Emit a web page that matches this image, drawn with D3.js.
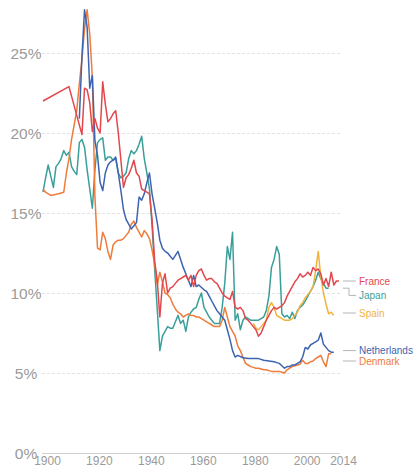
<!DOCTYPE html>
<html><head><meta charset="utf-8">
<script src="https://cdn.jsdelivr.net/npm/d3@7"></script>
<style>body{margin:0;background:#fff}svg{display:block}</style>
</head><body>
<svg id="c" width="413" height="468"></svg>
<script>
const yearTicks = [1900, 1920, 1940, 1960, 1980, 2000, 2014];
const pctTicks = [0, 5, 10, 15, 20, 25];

const france = [[1900,22.0],[1910,22.9],[1915,19.9],[1916,22.8],[1917,22.7],[1918,21.9],[1919,20.1],[1920,20.9],[1921,20.3],[1922,20.0],[1923,23.2],[1924,21.8],[1925,20.7],[1926,20.9],[1927,21.2],[1928,21.4],[1929,20.0],[1930,18.3],[1931,16.6],[1932,17.2],[1933,17.4],[1934,17.8],[1935,18.3],[1936,17.5],[1937,17.3],[1938,16.5],[1939,16.4],[1940,16.3],[1941,16.2],[1942,14.6],[1943,12.0],[1944,10.8],[1945,8.5],[1946,10.6],[1947,11.2],[1948,10.0],[1949,10.3],[1950,10.4],[1951,10.6],[1952,10.8],[1953,10.9],[1954,11.0],[1955,11.1],[1956,10.8],[1957,11.1],[1958,10.4],[1959,11.1],[1960,11.4],[1961,11.5],[1962,11.1],[1963,10.8],[1964,10.9],[1965,10.9],[1966,10.7],[1967,10.6],[1968,10.3],[1969,10.0],[1970,9.8],[1971,9.7],[1972,9.6],[1973,10.1],[1974,9.1],[1975,9.0],[1976,9.1],[1977,8.9],[1978,8.4],[1979,8.3],[1980,8.1],[1981,7.9],[1982,7.7],[1983,7.3],[1984,7.5],[1985,7.9],[1986,8.3],[1987,8.6],[1988,8.9],[1989,9.1],[1990,9.0],[1991,9.1],[1992,9.2],[1993,9.4],[1994,9.8],[1995,10.1],[1996,10.4],[1997,10.7],[1998,10.9],[1999,11.2],[2000,11.0],[2001,11.1],[2002,11.3],[2003,11.1],[2004,11.6],[2005,11.4],[2006,11.5],[2007,11.2],[2008,10.5],[2009,10.9],[2010,10.4],[2011,11.3],[2012,10.5],[2013,10.75],[2014,10.75]];

const japan = [[1900,16.3],[1901,17.2],[1902,18.0],[1903,17.3],[1904,16.6],[1905,17.9],[1906,18.1],[1907,18.4],[1908,18.9],[1909,18.6],[1910,18.8],[1911,17.9],[1912,17.6],[1913,17.4],[1914,19.4],[1915,19.6],[1916,19.1],[1917,17.7],[1918,16.5],[1919,15.3],[1920,17.7],[1921,19.4],[1922,19.6],[1923,19.7],[1924,18.3],[1925,18.5],[1926,18.5],[1927,18.3],[1928,18.4],[1929,17.5],[1930,17.2],[1931,17.3],[1932,17.5],[1933,18.4],[1934,18.9],[1935,18.7],[1936,18.9],[1937,19.3],[1938,19.8],[1939,18.4],[1940,17.5],[1941,16.5],[1942,14.2],[1943,11.5],[1944,9.0],[1945,6.4],[1946,7.3],[1947,7.6],[1948,7.9],[1949,7.8],[1950,7.8],[1951,8.2],[1952,8.6],[1953,8.1],[1954,8.3],[1955,7.6],[1956,8.5],[1957,8.8],[1958,9.0],[1959,9.1],[1960,9.6],[1961,10.0],[1962,9.1],[1963,8.8],[1964,8.5],[1965,8.3],[1966,8.1],[1967,8.1],[1968,8.1],[1969,9.1],[1970,10.6],[1971,12.9],[1972,12.1],[1973,13.8],[1974,8.3],[1975,8.7],[1976,7.7],[1977,8.3],[1978,8.5],[1979,8.4],[1980,8.3],[1981,8.3],[1982,8.3],[1983,8.3],[1984,8.4],[1985,8.5],[1986,8.9],[1987,9.8],[1988,11.6],[1989,12.1],[1990,12.9],[1991,12.4],[1992,8.7],[1993,8.5],[1994,8.6],[1995,8.4],[1996,8.8],[1997,8.4],[1998,8.9],[1999,9.1],[2000,9.25],[2001,9.5],[2002,9.8],[2003,10.1],[2004,10.4],[2005,10.8],[2006,11.3],[2007,10.9],[2008,10.6],[2009,10.3],[2010,10.3]];

const spain = [[1981,8.1],[1982,7.8],[1983,7.7],[1984,7.9],[1985,8.1],[1986,8.3],[1987,9.1],[1988,9.4],[1989,9.1],[1990,8.6],[1991,8.5],[1992,8.4],[1993,8.3],[1994,8.3],[1995,8.3],[1996,8.4],[1997,8.6],[1998,8.8],[1999,9.2],[2000,9.4],[2001,9.7],[2002,9.9],[2003,10.1],[2004,10.4],[2005,11.4],[2006,12.6],[2007,11.0],[2008,10.0],[2009,9.3],[2010,8.7],[2011,8.8],[2012,8.6]];

const netherlands = [[1914,20.9],[1915,24.8],[1916,27.7],[1917,26.6],[1918,22.8],[1919,23.6],[1920,19.5],[1921,18.6],[1922,16.9],[1923,16.4],[1924,17.5],[1925,18.0],[1926,18.2],[1927,18.3],[1928,18.5],[1929,17.5],[1930,16.4],[1931,15.2],[1932,14.6],[1933,14.3],[1934,14.0],[1935,14.2],[1936,14.4],[1937,16.0],[1938,15.8],[1939,16.2],[1940,16.9],[1941,17.5],[1942,16.2],[1943,15.3],[1944,14.4],[1945,13.3],[1946,12.8],[1947,12.6],[1948,12.5],[1949,12.3],[1950,12.1],[1952,12.6],[1953,12.1],[1954,11.6],[1955,11.2],[1956,10.8],[1957,10.4],[1958,11.1],[1959,10.4],[1960,10.5],[1962,10.2],[1963,10.1],[1964,9.8],[1965,9.5],[1966,9.2],[1967,8.9],[1968,8.7],[1969,8.5],[1970,8.3],[1971,7.7],[1972,7.1],[1973,6.4],[1974,6.0],[1975,6.1],[1977,5.95],[1979,5.9],[1981,5.9],[1983,5.9],[1985,5.8],[1987,5.75],[1989,5.7],[1990,5.65],[1991,5.6],[1992,5.45],[1993,5.3],[1994,5.4],[1995,5.4],[1996,5.5],[1997,5.5],[1998,5.6],[1999,5.7],[2000,6.0],[2001,6.6],[2002,6.5],[2003,6.75],[2004,6.85],[2005,6.95],[2006,7.05],[2007,7.5],[2008,6.8],[2009,6.6],[2010,6.4],[2011,6.3],[2012,6.3]];

const denmark = [[1900,16.5],[1901,16.3],[1903,16.1],[1906,16.2],[1908,16.3],[1909,17.5],[1910,18.4],[1911,19.6],[1912,20.5],[1913,21.4],[1914,23.1],[1915,24.6],[1916,26.5],[1917,27.7],[1918,26.2],[1919,23.5],[1920,16.0],[1921,12.8],[1922,12.7],[1923,13.8],[1924,13.4],[1925,12.6],[1926,12.1],[1927,13.0],[1928,13.2],[1929,13.3],[1930,13.3],[1931,13.4],[1932,13.6],[1933,13.8],[1934,14.3],[1935,14.5],[1936,14.1],[1937,13.8],[1938,13.5],[1939,13.9],[1940,13.7],[1941,13.4],[1942,12.7],[1943,11.8],[1944,10.5],[1945,11.3],[1946,10.7],[1947,10.0],[1948,9.9],[1949,9.7],[1950,9.3],[1951,9.0],[1952,8.8],[1953,8.7],[1954,8.5],[1955,8.6],[1956,8.7],[1957,8.6],[1958,8.6],[1959,8.5],[1960,8.5],[1961,8.4],[1962,8.3],[1963,8.2],[1964,8.1],[1965,8.0],[1966,7.9],[1967,7.9],[1968,7.9],[1969,8.3],[1970,9.1],[1971,8.5],[1972,7.9],[1973,7.6],[1974,7.3],[1975,6.7],[1976,6.4],[1977,6.0],[1978,5.6],[1979,5.5],[1980,5.4],[1981,5.35],[1982,5.3],[1983,5.3],[1984,5.25],[1985,5.2],[1986,5.2],[1987,5.15],[1988,5.1],[1989,5.1],[1990,5.1],[1991,5.1],[1992,5.05],[1993,5.0],[1994,5.2],[1995,5.3],[1996,5.4],[1997,5.45],[1998,5.5],[1999,5.55],[2000,5.8],[2001,5.6],[2002,5.6],[2003,5.7],[2004,5.75],[2005,5.9],[2006,6.0],[2007,6.1],[2008,5.7],[2009,5.4],[2010,6.2],[2011,6.2]];

const names = ["Japan", "Spain", "Denmark", "Netherlands", "France"];
const legendOrder = ["France", "Japan", "Spain", "Netherlands", "Denmark"];
const colors = {Japan:"#3a9f9a", Spain:"#f2b33d", Denmark:"#ee7c3b", Netherlands:"#3d64b0", France:"#e2474d"};
const seriesData = {Japan:japan, Spain:spain, Denmark:denmark, Netherlands:netherlands, France:france};
// value-axis level at which each legend label sits
const labelAt = {France:10.75, Japan:9.85, Spain:8.75, Netherlands:6.4, Denmark:5.75};
const bentLeader = ["Japan"];

const svg = d3.select("#c");
const x = d3.scaleLinear().domain([1900, 2014]).range([43, 339]);
const y = d3.scaleLinear().domain([0, 25]).range([453, 53]);
const font = "'Helvetica Neue', 'Liberation Sans', Arial, sans-serif";

// Y axis with gridlines
const yAxis = svg.append("g").attr("transform", "translate(42,0)")
  .call(d3.axisLeft(y).tickValues(pctTicks).tickSize(-298).tickFormat(d => d + "%"));
yAxis.select(".domain").remove();
yAxis.selectAll(".tick line")
  .attr("stroke", d => d === 0 ? "#d0d0d0" : "#e2e2e2")
  .attr("stroke-dasharray", d => d === 0 ? null : "3,2");
yAxis.selectAll(".tick text")
  .attr("x", -16).attr("text-anchor", "middle").attr("dy", "0.36em")
  .attr("fill", "#9a9a9a").style("font-family", font).style("font-size", "15.5px").style("font-weight", 300);

// X axis
const xAxis = svg.append("g").attr("transform", "translate(0,453)")
  .call(d3.axisBottom(x).tickValues(yearTicks).tickSize(0).tickFormat(d3.format("d")));
xAxis.select(".domain").remove();
xAxis.selectAll(".tick text")
  .attr("y", 11.5).attr("dy", 0).attr("dx", 4)
  .attr("fill", "#9a9a9a").style("font-family", font).style("font-size", "12px").style("font-weight", 300);

// Lines
const line = d3.line().x(d => x(d[0])).y(d => y(d[1]));
names.forEach(n => {
  svg.append("path").datum(seriesData[n])
    .attr("fill", "none").attr("stroke", colors[n]).attr("stroke-width", 1.5)
    .attr("stroke-linejoin", "round").attr("d", line);
});

// Legend labels with leader lines
const leadX0 = 343, leadX1 = 356;
legendOrder.forEach(n => {
  const d = seriesData[n];
  const yEnd = y(d[d.length - 1][1]);
  const yLab = y(labelAt[n]);
  const p = bentLeader.includes(n)
    ? `M${leadX0},${yEnd}H349V${yLab}H${leadX1}`
    : `M${leadX0},${yLab}H${leadX1}`;
  svg.append("path").attr("d", p).attr("fill", "none").attr("stroke", "#b5b5b5").attr("stroke-width", 1);
  svg.append("text").attr("x", 359).attr("y", yLab).attr("dy", "0.35em")
    .attr("fill", colors[n]).style("font-family", font).style("font-size", "10px")
    .text(n);
});
</script>
</body></html>
